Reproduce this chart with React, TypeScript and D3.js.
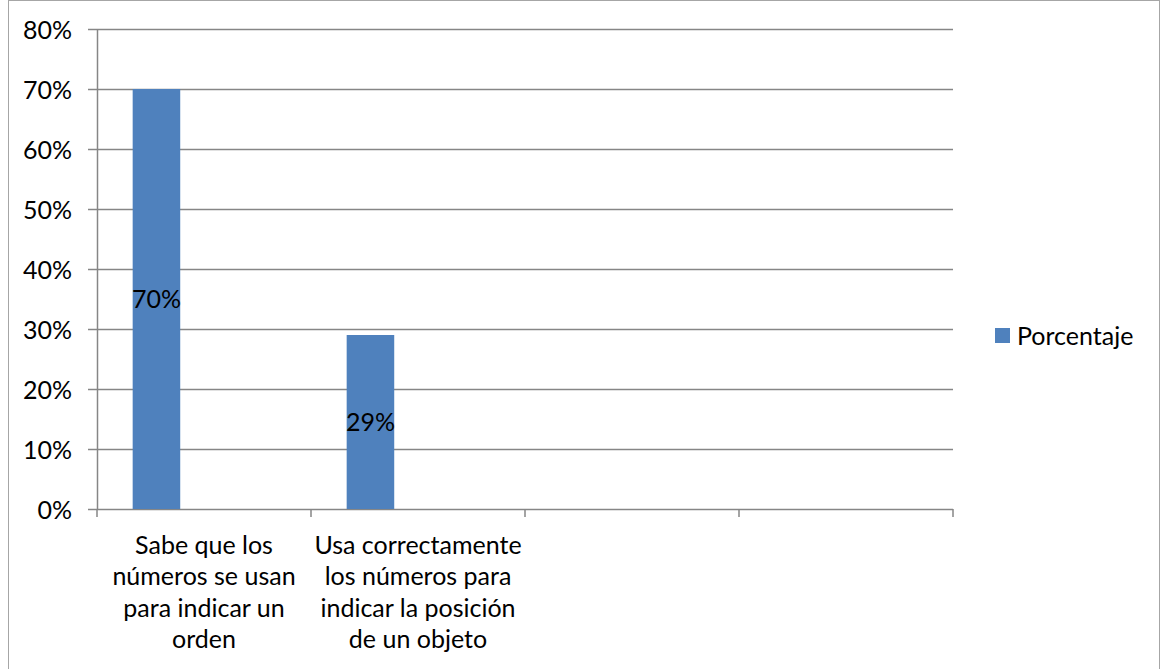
import React from 'react';
import * as d3 from 'd3';

// chart data
const categories = ['c1', 'c2', 'c3', 'c4'];
const categoryLabels: string[][] = [
  ['Sabe que los', 'números se usan', 'para indicar un', 'orden'],
  ['Usa correctamente', 'los números para', 'indicar la posición', 'de un objeto'],
  [],
  [],
];
const seriesNames = ['Porcentaje', 's2', 's3'];
const porcentaje: (number | null)[] = [0.70, 0.29, null, null];
const yTicks = [0, 0.1, 0.2, 0.3, 0.4, 0.5, 0.6, 0.7, 0.8];

const W = 1160;
const H = 669;
const margin = { top: 29, right: 207, bottom: 160, left: 97 };
const FONT = 'Lato, "Open Sans", sans-serif';
const FS = 25;
const BAR = '#4F81BD';
const GRID = '#868686';

export default function App() {
  const innerW = W - margin.left - margin.right;
  const innerH = H - margin.top - margin.bottom;

  const x = d3.scaleBand<string>().domain(categories).range([0, innerW]);
  const xs = d3.scaleBand<string>()
    .domain(seriesNames)
    .range([0, x.bandwidth()])
    .paddingInner(0)
    .paddingOuter(0.75);
  const y = d3.scaleLinear().domain([0, 0.8]).range([innerH, 0]);
  const fmt = d3.format('.0%');

  return (
    <div style={{ position: 'absolute', left: 0, top: 0 }}>
      <svg width={W} height={H} style={{ display: 'block', fontFamily: FONT }}>
        <rect x={0} y={0} width={W} height={H} fill="#fff" />
        <rect x={8.5} y={0.5} width={W - 9} height={H + 10} fill="none" stroke="#a6a6a6" strokeWidth={1} />
        <g transform={`translate(${margin.left},${margin.top})`}>
          {/* gridlines + y ticks */}
          {yTicks.map(t => (
            <g key={t} transform={`translate(0,${Math.round(y(t)) + 0.5})`}>
              <line x1={-9} x2={innerW} stroke={GRID} strokeWidth={1.5} />
              <text x={-25} dy="0.36em" textAnchor="end" fontSize={FS} fill="#000">{fmt(t)}</text>
            </g>
          ))}
          {/* y axis */}
          <line x1={0.5} x2={0.5} y1={0} y2={innerH} stroke={GRID} strokeWidth={1.5} />
          {/* x ticks */}
          {[...categories.map(c => x(c) as number), innerW].map((px, i) => (
            <line key={i} x1={px} x2={px} y1={innerH} y2={innerH + 8} stroke={GRID} strokeWidth={1.5} />
          ))}
          {/* bars */}
          {categories.map((c, i) => {
            const v = porcentaje[i];
            if (v == null) return null;
            const bx = (x(c) as number) + (xs('Porcentaje') as number);
            const bw = xs.bandwidth();
            return (
              <g key={c}>
                <rect x={bx} y={y(v)} width={bw} height={innerH - y(v)} fill={BAR} />
                <text x={bx + bw / 2} y={(y(v) + innerH) / 2} dy="0.36em" textAnchor="middle" fontSize={FS} fill="#000">
                  {fmt(v)}
                </text>
              </g>
            );
          })}
          {/* category labels */}
          {categories.map((c, i) => (
            <text key={c} textAnchor="middle" fontSize={FS} fill="#000">
              {categoryLabels[i].map((ln, j) => (
                <tspan key={j} x={(x(c) as number) + x.bandwidth() / 2} y={innerH + 36 + j * 31.3} dy="0.36em">{ln}</tspan>
              ))}
            </text>
          ))}
        </g>
        {/* legend */}
        <g transform="translate(995,328)">
          <rect x={0} y={0} width={15} height={15} fill={BAR} />
          <text x={22} y={7.5} dy="0.36em" fontSize={FS} fill="#000">Porcentaje</text>
        </g>
      </svg>
    </div>
  );
}
